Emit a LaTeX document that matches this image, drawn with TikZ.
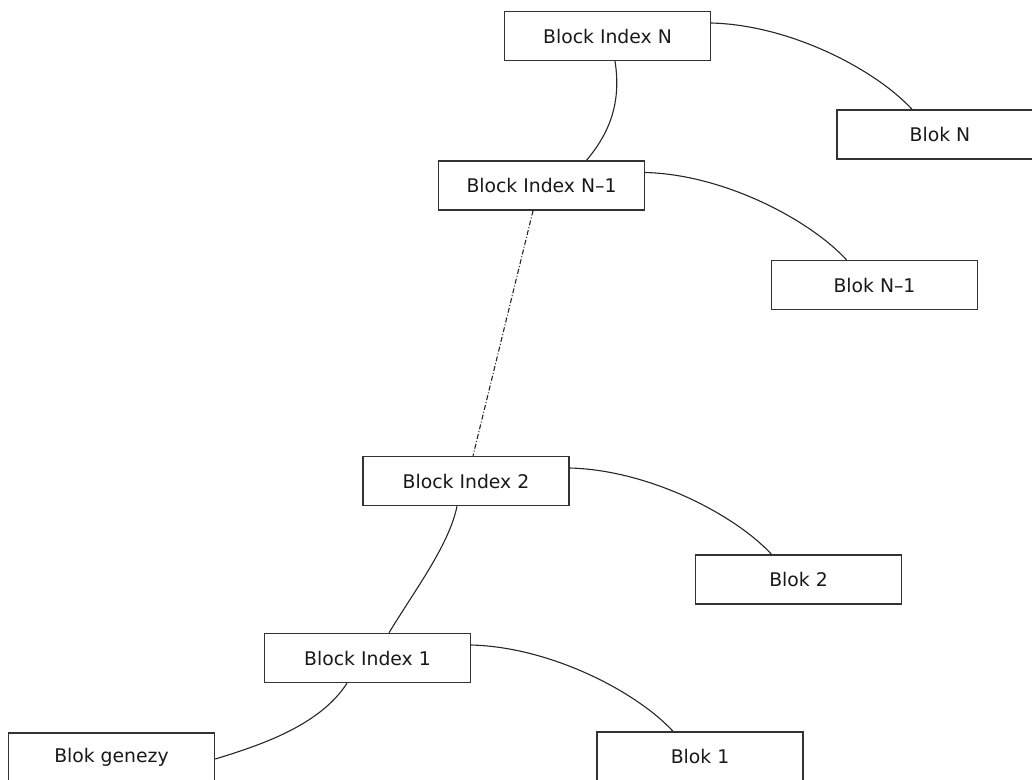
\documentclass[tikz,border=0pt]{standalone}
\usepackage{fontspec}
\setmainfont{DejaVu Sans}
\begin{document}
\begin{tikzpicture}[x=1pt,y=-1pt,
  blk/.style={draw=black!80, line width=1.4pt, fill=white,
    minimum width=206pt, minimum height=49pt, inner sep=0pt,
    font=\fontsize{18.8}{22}\selectfont, text=black!90},
  link/.style={draw=black!85, line width=1.1pt},
  chainlink/.style={link, dash pattern=on 5pt off 2pt on 1pt off 2pt}]
\useasboundingbox (0,0) rectangle (1032,779);

% index chain (left) and data blocks (right)
\node[blk] (bin)  at (607.5,36)  {Block Index N};
\node[blk] (bn)   at (940,134.5) {Blok N};
\node[blk] (bin1) at (541.5,185.5) {Block Index N–1};
\node[blk] (bn1)  at (874.5,285) {Blok N–1};
\node[blk] (bi2)  at (466,481)   {Block Index 2};
\node[blk] (b2)   at (798.5,579.5) {Blok 2};
\node[blk] (bi1)  at (367.5,658) {Block Index 1};
\node[blk] (bg)   at (111.5,757.5) {Blok genezy};
\node[blk] (b1)   at (700,756.5) {Blok 1};

% index -> data links
\draw[link] ([yshift=13pt]bin.east) .. controls +(79,2) and +(-37,-40) .. ([xshift=-28pt]bn.north);
\draw[link] ([yshift=13pt]bin1.east) .. controls +(79,2) and +(-37,-40) .. ([xshift=-28pt]bn1.north);
\draw[link] ([yshift=13pt]bi2.east) .. controls +(79,2) and +(-37,-40) .. ([xshift=-27pt]b2.north);
\draw[link] ([yshift=13pt]bi1.east) .. controls +(79,2) and +(-37,-40) .. ([xshift=-27pt]b1.north);

% index -> previous index links
\draw[link] ([xshift=7.5pt]bin.south) .. controls +(7,44) and +(21,-25) .. ([xshift=45pt]bin1.north);
\draw[chainlink] ([xshift=-8.5pt]bin1.south) -- ([xshift=7pt]bi2.north);
\draw[link] ([xshift=-9pt]bi2.south) .. controls +(-8,39) and +(26,-43) .. ([xshift=21.5pt]bi1.north);
\draw[link] ([xshift=-20.5pt]bi1.south) .. controls +(-27,42) and +(46,-14) .. ([yshift=-1.5pt]bg.east);
\end{tikzpicture}
\end{document}
